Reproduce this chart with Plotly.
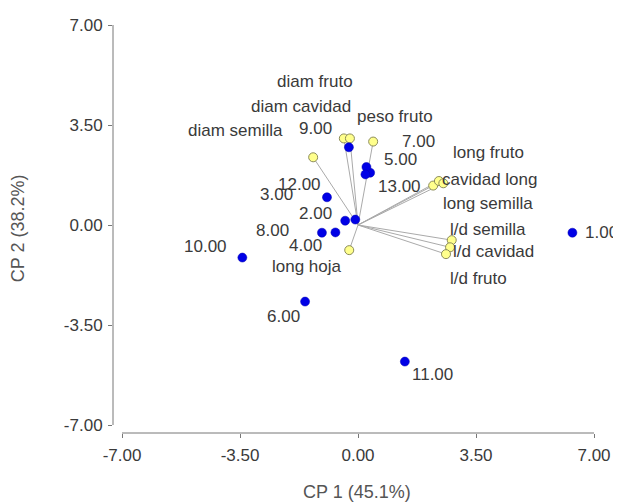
import plotly.graph_objects as go

# ---- data ----
obs_labels = ["1.00", "2.00", "3.00", "4.00", "5.00", "6.00", "7.00",
              "8.00", "9.00", "10.00", "11.00", "12.00", "13.00"]
obs_x = [6.36, -0.38, -0.08, -0.67, 0.36, -1.57, 0.25, -1.07, -0.27, -3.43, 1.39, -0.92, 0.22]
obs_y = [-0.27, 0.15, 0.19, -0.26, 1.83, -2.68, 2.03, -0.27, 2.72, -1.14, -4.78, 0.97, 1.77]

var_names = ["diam semilla", "diam cavidad", "diam fruto", "peso fruto", "long hoja",
             "cavidad long", "long fruto", "long semilla",
             "l/d semilla", "l/d cavidad", "l/d fruto"]
var_x = [-1.33, -0.42, -0.24, 0.45, -0.26, 2.23, 2.40, 2.53, 2.78, 2.73, 2.61]
var_y = [2.37, 3.03, 3.03, 2.92, -0.88, 1.38, 1.54, 1.46, -0.53, -0.78, -1.02]

tick_vals = [-7, -3.5, 0, 3.5, 7]
tick_text = ["-7.00", "-3.50", "0.00", "3.50", "7.00"]
x_title = "CP 1 (45.1%)"
y_title = "CP 2 (38.2%)"

# ---- label offsets in pixels (style) ----
obs_dx = [29, -30, -79, -30, 30, -22, 52, -49, -33, -37, 28, -27, 34]
obs_dy = [0, -7, -25, 13, -13, 15, -26, -2, -19, -11, 13, -13, 12]
var_dx = [-78, -43, -35, 22, -42, 56, 50, 45, 36, 43, 33]
var_dy = [-27, -32, -57, -25, 16, -6, -29, 20, -11, 4, 24]

FONT = "Liberation Sans, Arial, sans-serif"
TXT = "#3a3a3a"

fig = go.Figure()

# vectors from origin
lx, ly = [], []
for vx, vy in zip(var_x, var_y):
    lx += [0, vx, None]
    ly += [0, vy, None]
fig.add_trace(go.Scatter(x=lx, y=ly, mode="lines",
                         line=dict(color="#aaaaaa", width=1),
                         hoverinfo="skip", showlegend=False))

fig.add_trace(go.Scatter(x=var_x, y=var_y, mode="markers",
                         marker=dict(size=9, color="#ffff8c",
                                     line=dict(color="#8c8c5a", width=1)),
                         text=var_names, showlegend=False, cliponaxis=False))

fig.add_trace(go.Scatter(x=obs_x, y=obs_y, mode="markers",
                         marker=dict(size=9, color="#0000e6",
                                     line=dict(color="#0000b0", width=0.5)),
                         text=obs_labels, showlegend=False, cliponaxis=False))

annotations = []
for lab, x, y, dx, dy in zip(obs_labels, obs_x, obs_y, obs_dx, obs_dy):
    annotations.append(dict(x=x, y=y, xref="x", yref="y", text=lab, showarrow=False,
                            xshift=dx, yshift=-dy, xanchor="center", yanchor="middle",
                            font=dict(family=FONT, size=17, color=TXT)))
for lab, x, y, dx, dy in zip(var_names, var_x, var_y, var_dx, var_dy):
    annotations.append(dict(x=x, y=y, xref="x", yref="y", text=lab, showarrow=False,
                            xshift=dx, yshift=-dy, xanchor="center", yanchor="middle",
                            font=dict(family=FONT, size=17, color=TXT)))

annotations.append(dict(x=0.5, y=-0.143, xref="paper", yref="paper", text=x_title,
                        showarrow=False, xanchor="center", yanchor="middle",
                        font=dict(family=FONT, size=18, color="#555555")))
annotations.append(dict(x=-0.195, y=0.496, xref="paper", yref="paper", text=y_title,
                        showarrow=False, xanchor="center", yanchor="middle", textangle=-90,
                        font=dict(family=FONT, size=18, color="#555555")))

shapes = [
    dict(type="line", xref="x", yref="paper", x0=tick_vals[0], x1=tick_vals[-1], y0=0, y1=0,
         line=dict(color="#777777", width=1)),
    dict(type="line", xref="paper", yref="y", x0=0, x1=0, y0=tick_vals[0], y1=tick_vals[-1],
         line=dict(color="#777777", width=1)),
]

axis_common = dict(tickvals=tick_vals, ticktext=tick_text, showgrid=False, zeroline=False,
                   showline=False, ticks="outside", ticklen=4, tickcolor="#777777",
                   tickfont=dict(family=FONT, size=17, color=TXT))

# page body has an 8px default margin, so the figure is 8px smaller on each axis
fig.update_layout(
    width=613, height=494,
    margin=dict(l=105, r=21, t=12, b=69, autoexpand=False),
    paper_bgcolor="white", plot_bgcolor="white",
    xaxis=dict(range=[-7.267, 7.178], ticklabelstandoff=3, **axis_common),
    yaxis=dict(range=[-7.28, 7.175], ticklabelstandoff=2, **axis_common),
    annotations=annotations, shapes=shapes,
    showlegend=False,
)

fig.write_html("out.html")
